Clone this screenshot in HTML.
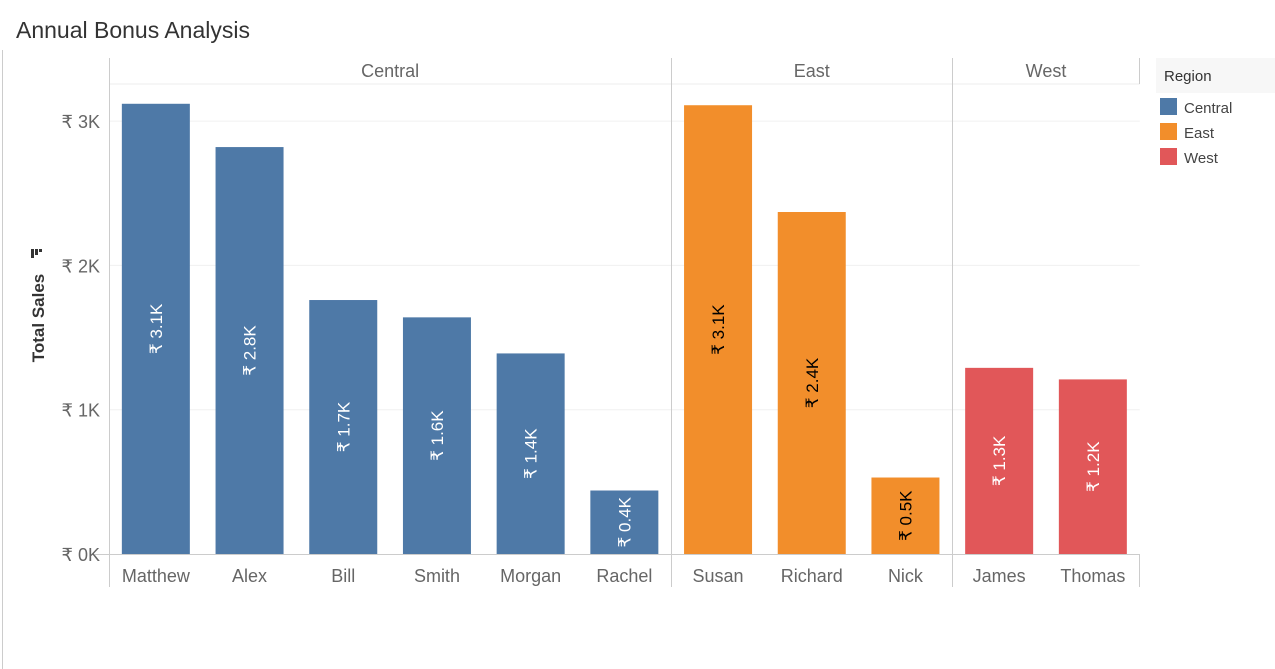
<!DOCTYPE html>
<html><head><meta charset="utf-8"><style>
body{margin:0;background:#fff;width:1275px;height:669px;overflow:hidden;font-family:"Liberation Sans",sans-serif}
</style></head><body>
<svg id="c" width="1275" height="669" style="position:absolute;left:0;top:0">
<line x1="2.5" y1="50" x2="2.5" y2="669" stroke="#ccc"/>
<text x="16" y="38" font-size="23" fill="#333">Annual Bonus Analysis</text>
<text transform="translate(44,318) rotate(-90)" text-anchor="middle" font-size="17" font-weight="bold" fill="#333">Total Sales</text>
<g><rect x="31" y="249" width="3" height="9" fill="#333"/><rect x="35" y="249" width="3" height="6" fill="#333"/><rect x="39" y="249" width="3" height="3" fill="#333"/></g>
<g id="grid"></g><g id="bars"></g><g id="axes"></g>
<g>
<rect x="1156" y="58" width="119" height="35" fill="#f7f7f7"/>
<text x="1164" y="81" font-size="15" fill="#333">Region</text>
<rect x="1160" y="98" width="17" height="17" fill="#4e79a7"/><text x="1184" y="113" font-size="15" fill="#444">Central</text>
<rect x="1160" y="123" width="17" height="17" fill="#f28e2b"/><text x="1184" y="138" font-size="15" fill="#444">East</text>
<rect x="1160" y="148" width="17" height="17" fill="#e15759"/><text x="1184" y="163" font-size="15" fill="#444">West</text>
</g>
</svg>
<script>
const names=["Matthew","Alex","Bill","Smith","Morgan","Rachel","Susan","Richard","Nick","James","Thomas"];
const regionOf=["Central","Central","Central","Central","Central","Central","East","East","East","West","West"];
const sales=[3.12,2.82,1.76,1.64,1.39,0.44,3.11,2.37,0.53,1.29,1.21];
const labels=["₹ 3.1K","₹ 2.8K","₹ 1.7K","₹ 1.6K","₹ 1.4K","₹ 0.4K","₹ 3.1K","₹ 2.4K","₹ 0.5K","₹ 1.3K","₹ 1.2K"];
const regions=["Central","East","West"];
const yTicks=[0,1,2,3];
const yTickLabels=["₹ 0K","₹ 1K","₹ 2K","₹ 3K"];
const colors={Central:"#4e79a7",East:"#f28e2b",West:"#e15759"};
const textCol={Central:"#fff",East:"#000",West:"#fff"};
const NS="http://www.w3.org/2000/svg";
const x0=109,colW=93.7,barW=68,base=554,perK=144.3,right=x0+colW*names.length;
const y=v=>base-v*perK, xc=i=>x0+colW*i+colW/2;
function mk(t,a,p){const e=document.createElementNS(NS,t);for(const k in a)e.setAttribute(k,a[k]);p.appendChild(e);return e;}
const grid=document.getElementById('grid'),bars=document.getElementById('bars'),axes=document.getElementById('axes');
mk('line',{x1:x0,y1:84,x2:right,y2:84,stroke:'#eee'},grid);
yTicks.forEach((t,i)=>{
 if(t>0){const g=mk('line',{x1:x0,y1:y(t),x2:right,y2:y(t),stroke:'#f0f0f0'},grid);
 
 }
 const tx=mk('text',{x:100,y:y(t)+7,'text-anchor':'end','font-size':18,fill:'#666'},axes);tx.textContent=yTickLabels[i];
 
 
});
mk('line',{x1:95,y1:base+0.5,x2:right,y2:base+0.5,stroke:'#ccc'},axes);
let start=0;
regions.forEach(r=>{
 const n=regionOf.filter(v=>v===r).length;
 const xa=x0+start*colW, xb=x0+(start+n)*colW;
 const h=mk('text',{x:(xa+xb)/2,y:77,'text-anchor':'middle','font-size':18,fill:'#666'},axes);h.textContent=r;
 
 
 mk('line',{x1:Math.round(xa)+0.5,y1:58,x2:Math.round(xa)+0.5,y2:587,stroke:'#ccc'},axes);
 start+=n;
});
const xe=Math.round(x0+start*colW)-0.5;
mk('line',{x1:xe,y1:58,x2:xe,y2:84,stroke:'#ccc'},axes);
mk('line',{x1:xe,y1:554,x2:xe,y2:587,stroke:'#ccc'},axes);
names.forEach((nm,i)=>{
 const r=regionOf[i],top=y(sales[i]);
 const b=mk('rect',{x:xc(i)-barW/2,y:top,width:barW,height:base-top,fill:colors[r]},bars);
 
 
 const cy=(top+base)/2;
 const l=mk('text',{transform:`translate(${xc(i)+6},${cy}) rotate(-90)`,'text-anchor':'middle','font-size':17,fill:textCol[r]},bars);
 l.textContent=labels[i];
 
 
 const t=mk('text',{x:xc(i),y:582,'text-anchor':'middle','font-size':18,fill:'#666'},axes);t.textContent=nm;
 
 
});
</script>
</body></html>
